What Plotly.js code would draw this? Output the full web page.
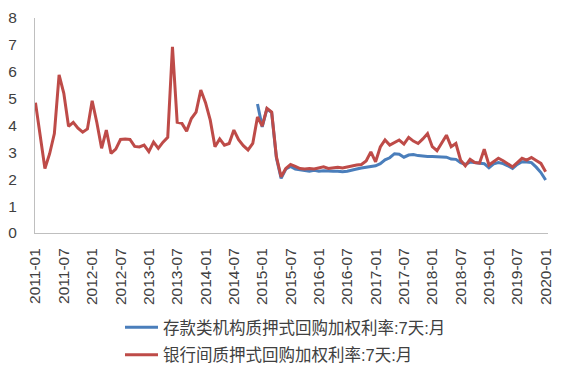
<!DOCTYPE html>
<html>
<head>
<meta charset="utf-8">
<script src="https://cdn.plot.ly/plotly-3.0.1.min.js"></script>
<style>html,body{margin:0;padding:0;background:#fff;}#chart{width:568px;height:378px;}</style>
</head>
<body>
<div id="chart"></div>
<script>
// Categories: monthly 2011-01 .. 2020-01
const years = [2011, 2012, 2013, 2014, 2015, 2016, 2017, 2018, 2019, 2020];
const monthNames = ["01","02","03","04","05","06","07","08","09","10","11","12"];
const months = [];
years.forEach(y => monthNames.forEach(m => { if (y < 2020 || m === "01") months.push(y + "-" + m); }));

const tickLabels = ["2011-01","2011-07","2012-01","2012-07","2013-01","2013-07","2014-01","2014-07",
  "2015-01","2015-07","2016-01","2016-07","2017-01","2017-07","2018-01","2018-07","2019-01","2019-07","2020-01"];

// 银行间质押式回购加权利率:7天:月 (2011-01 .. 2020-01)
const interbankRate = [
  4.85, 3.70, 2.40, 2.95, 3.70, 5.88, 5.20, 3.97, 4.12, 3.90, 3.75, 3.87,
  4.92, 4.10, 3.15, 3.83, 2.96, 3.12, 3.48, 3.50, 3.48, 3.22, 3.20, 3.27,
  3.03, 3.38, 3.15, 3.38, 3.56, 6.93, 4.12, 4.08, 3.79, 4.26, 4.50, 5.32,
  4.85, 4.20, 3.21, 3.50, 3.27, 3.33, 3.83, 3.47, 3.25, 3.09, 3.33, 4.32,
  3.98, 4.64, 4.50, 2.84, 2.09, 2.40, 2.55, 2.48, 2.40, 2.38, 2.40, 2.38,
  2.42, 2.46, 2.40, 2.42, 2.45, 2.42, 2.46, 2.50, 2.53, 2.55, 2.68, 3.02,
  2.65, 3.20, 3.46, 3.27, 3.38, 3.46, 3.31, 3.56, 3.42, 3.33, 3.50, 3.70,
  3.21, 3.06, 3.35, 3.64, 3.21, 3.33, 2.71, 2.50, 2.74, 2.62, 2.60, 3.12,
  2.53, 2.65, 2.78, 2.69, 2.58, 2.46, 2.62, 2.78, 2.71, 2.81, 2.70, 2.59,
  2.28
];

// 存款类机构质押式回购加权利率:7天:月 (2014-12 .. 2020-01)
const depositoryMonths = months.slice(months.indexOf("2014-12"));
const depositoryRate = [
  4.80,
  3.95, 4.62, 4.48, 2.80, 2.03, 2.38, 2.48, 2.38, 2.35, 2.33, 2.30, 2.33,
  2.30, 2.32, 2.30, 2.30, 2.30, 2.28, 2.30, 2.33, 2.38, 2.42, 2.45, 2.47,
  2.50, 2.58, 2.72, 2.80, 2.95, 2.93, 2.82, 2.90, 2.92, 2.88, 2.86, 2.85,
  2.85, 2.84, 2.84, 2.82, 2.75, 2.74, 2.62, 2.55, 2.64, 2.62, 2.60, 2.58,
  2.43, 2.57, 2.62, 2.58, 2.50, 2.40, 2.55, 2.65, 2.64, 2.62, 2.45, 2.25,
  1.97
];

const seriesNames = ["存款类机构质押式回购加权利率:7天:月", "银行间质押式回购加权利率:7天:月"];
const fontFam = "Liberation Sans, Arial, Noto Sans CJK SC, sans-serif";

const traces = [
  {x: depositoryMonths, y: depositoryRate, name: seriesNames[0], type: "scatter", mode: "lines",
   legendgroup: "a", line: {color: "#4A7EBB", width: 3}},
  {x: months, y: interbankRate, name: seriesNames[1], type: "scatter", mode: "lines",
   legendgroup: "b", line: {color: "#BE4B48", width: 3}}
];

const layout = {
  width: 568, height: 378,
  margin: {l: 35, r: 20, t: 18, b: 145, autoexpand: false},
  paper_bgcolor: "#fff", plot_bgcolor: "#fff",
  font: {family: fontFam, color: "#404040"},
  showlegend: true,
  xaxis: {
    type: "category",
    categoryorder: "array", categoryarray: months,
    range: [-0.1, 108.5],
    tickmode: "array", tickvals: tickLabels, ticktext: tickLabels,
    tickangle: -90, ticks: "", ticklabelstandoff: 8,
    tickfont: {size: 15.5, color: "#404040", family: fontFam},
    showgrid: false, zeroline: false, automargin: false,
    showline: true, linecolor: "#BFBFBF", linewidth: 1
  },
  yaxis: {
    range: [0, 8], tickvals: [0,1,2,3,4,5,6,7,8], ticks: "",
    ticklabelstandoff: 14, automargin: false,
    tickfont: {size: 15.5, color: "#404040", family: fontFam},
    showgrid: false, zeroline: false,
    showline: true, linecolor: "#BFBFBF", linewidth: 1
  },
  legend: {
    orientation: "v",
    x: (120 - 35) / 513, xanchor: "left", y: (233 - 310) / 215, yanchor: "top",
    font: {size: 16.5, color: "#404040", family: fontFam},
    bgcolor: "rgba(0,0,0,0)", itemwidth: 33, tracegroupgap: 3
  }
};

Plotly.newPlot("chart", traces, layout, {displayModeBar: false, staticPlot: true});
</script>
</body>
</html>
